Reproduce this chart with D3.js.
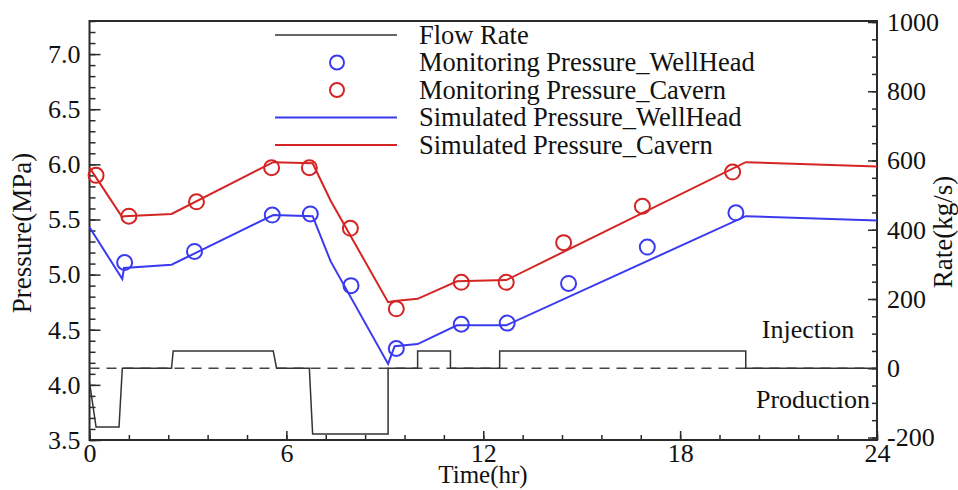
<!DOCTYPE html>
<html>
<head>
<meta charset="utf-8">
<title>Pressure and flow rate</title>
<script src="https://d3js.org/d3.v7.min.js"></script>
<style>
  body { margin: 0; background: #fff; }
  text { font-family: "Liberation Serif", "DejaVu Serif", serif; fill: #111; }
</style>
</head>
<body>
<svg id="chart"></svg>
<script>
// flow rate step line (kg/s)
const flowT    = [0, 0.2, 0.9, 1.0, 2.5, 2.55, 5.6, 5.7, 6.7, 6.8, 9.1, 9.1, 10.0, 10.0, 11.0, 11.0, 12.5, 12.5, 20.0, 20.0, 24];
const flowRate = [-40, -170, -170, 0, 0, 50, 50, 0, 0, -190, -190, 0, 0, 50, 50, 0, 0, 50, 50, 0, 0];

// simulated pressures (MPa)
const simT       = [0, 1.0, 1.05, 2.5, 5.6, 6.8, 7.35, 9.1, 9.3, 10.0, 11.2, 12.7, 20.0, 24];
const simWell    = [5.43, 4.96, 5.06, 5.09, 5.54, 5.53, 5.12, 4.19, 4.35, 4.37, 4.54, 4.54, 5.53, 5.49];
const simCavern  = [5.97, 5.52, 5.53, 5.55, 6.02, 6.01, 5.67, 4.75, 4.76, 4.78, 4.94, 4.95, 6.02, 5.98];

// monitoring pressures (MPa)
const monWellT   = [1.07, 3.2, 5.57, 6.73, 7.97, 9.35, 11.33, 12.73, 14.6, 17.0, 19.7];
const monWell    = [5.11, 5.21, 5.54, 5.55, 4.9, 4.33, 4.55, 4.56, 4.92, 5.25, 5.56];
const monCavT    = [0.2, 1.2, 3.26, 5.55, 6.7, 7.95, 9.35, 11.33, 12.7, 14.45, 16.85, 19.6];
const monCavern  = [5.90, 5.53, 5.66, 5.97, 5.97, 5.42, 4.69, 4.93, 4.93, 5.29, 5.62, 5.93];

const xTicks = [0, 6, 12, 18, 24];
const pTicks = [3.5, 4.0, 4.5, 5.0, 5.5, 6.0, 6.5, 7.0];
const rTicks = [-200, 0, 200, 400, 600, 800, 1000];

const legendItems = [
  {label: 'Flow Rate', kind: 'line', color: '#333'},
  {label: 'Monitoring Pressure_WellHead', kind: 'circle', color: '#3a3af0'},
  {label: 'Monitoring Pressure_Cavern', kind: 'circle', color: '#d42424'},
  {label: 'Simulated Pressure_WellHead', kind: 'line', color: '#3a3af0'},
  {label: 'Simulated Pressure_Cavern', kind: 'line', color: '#d42424'}
];

const W = 958, H = 490;
const mLeft = 89.5, mRight = 877, mTop = 21, mBottom = 440;
const blue = '#3a3af0', red = '#d42424', axisCol = '#2a2a2a';

let svg = d3.select('#chart').attr('width', W).attr('height', H);

const x = d3.scaleLinear().domain([0, 24]).range([mLeft, mRight]);
const y = d3.scaleLinear().domain([3.5, 7.3]).range([mBottom, mTop]);
const yR = d3.scaleLinear().domain([-200, 1000]).range([437.5, 22]);

// minor ticks
const xMinor = d3.range(0, 24.01, 1.2);
const pMinor = d3.range(3.5, 7.31, 0.1);
const rMinor = d3.range(-200, 1000.1, 50);

function styleAxis(g) {
  g.select('.domain').remove();
  g.selectAll('line').style('stroke', axisCol).style('stroke-width', 1.5);
  g.selectAll('text').style('font-size', '26px').style('font-family', '"Liberation Serif", serif').style('fill', '#111');
}

svg.append('g').attr('transform', `translate(${mLeft},0)`)
  .call(d3.axisLeft(y).tickValues(pMinor).tickSize(-6).tickFormat(''))
  .call(styleAxis);
svg.append('g').attr('transform', `translate(${mLeft},0)`)
  .call(d3.axisLeft(y).tickValues(pTicks).tickSize(-11).tickPadding(9).tickFormat(d3.format('.1f')))
  .call(styleAxis);

svg.append('g').attr('transform', `translate(0,${mBottom})`)
  .call(d3.axisBottom(x).tickValues(xMinor).tickSize(-5).tickFormat(''))
  .call(styleAxis);
svg.append('g').attr('transform', `translate(0,${mBottom})`)
  .call(d3.axisBottom(x).tickValues(xTicks).tickSize(-9).tickPadding(4).tickFormat(d => String(d)))
  .call(styleAxis);

svg.append('g').attr('transform', `translate(${mRight},0)`)
  .call(d3.axisRight(yR).tickValues(rMinor).tickSize(-5).tickFormat(''))
  .call(styleAxis);
svg.append('g').attr('transform', `translate(${mRight},0)`)
  .call(d3.axisRight(yR).tickValues(rTicks).tickSize(-9).tickPadding(10).tickFormat(d => String(d)))
  .call(styleAxis);

// frame
svg.append('rect')
  .attr('x', mLeft).attr('y', mTop)
  .attr('width', mRight - mLeft).attr('height', mBottom - mTop)
  .style('fill', 'none').style('stroke', axisCol).style('stroke-width', 2);

// zero-rate dashed line
svg.append('line')
  .attr('x1', mLeft).attr('x2', mRight)
  .attr('y1', yR(0)).attr('y2', yR(0))
  .style('stroke', '#444').style('stroke-width', 1.5)
  .style('stroke-dasharray', '10,7');

// flow rate
let flowLine = d3.line().x((d, i) => x(flowT[i])).y(d => yR(d));
svg.append('path')
  .attr('d', flowLine(flowRate))
  .style('fill', 'none').style('stroke', '#333').style('stroke-width', 1.5);

// simulated pressures
let simLine = d3.line().x((d, i) => x(simT[i])).y(d => y(d));
svg.append('path')
  .attr('d', simLine(simWell))
  .style('fill', 'none').style('stroke', blue).style('stroke-width', 2);
svg.append('path')
  .attr('d', simLine(simCavern))
  .style('fill', 'none').style('stroke', red).style('stroke-width', 2);

// monitoring pressures
svg.append('g').selectAll('circle').data(monWell).enter().append('circle')
  .attr('cx', (d, i) => x(monWellT[i]))
  .attr('cy', d => y(d))
  .attr('r', 7.5)
  .style('fill', 'none').style('stroke', blue).style('stroke-width', 2);
svg.append('g').selectAll('circle').data(monCavern).enter().append('circle')
  .attr('cx', (d, i) => x(monCavT[i]))
  .attr('cy', d => y(d))
  .attr('r', 7.5)
  .style('fill', 'none').style('stroke', red).style('stroke-width', 2);

// legend
let legend = svg.append('g');
legendItems.forEach(function(item, i) {
  let ly = 35 + i * 27.5;
  if (item.kind === 'line') {
    legend.append('line')
      .attr('x1', 275).attr('x2', 397).attr('y1', ly).attr('y2', ly)
      .style('stroke', item.color).style('stroke-width', item.color === '#333' ? 1.5 : 2);
  } else {
    legend.append('circle')
      .attr('cx', 337).attr('cy', ly).attr('r', 7)
      .style('fill', 'none').style('stroke', item.color).style('stroke-width', 2);
  }
  legend.append('text')
    .attr('x', 419).attr('y', ly).attr('dy', '0.33em')
    .style('font-size', '26.5px')
    .text(item.label);
});

// annotations
svg.append('text').attr('x', 808).attr('y', 338).attr('text-anchor', 'middle')
  .style('font-size', '26px').text('Injection');
svg.append('text').attr('x', 813).attr('y', 408).attr('text-anchor', 'middle')
  .style('font-size', '26px').text('Production');

// axis titles
svg.append('text').attr('x', 483).attr('y', 483).attr('text-anchor', 'middle')
  .style('font-size', '25px').text('Time(hr)');
svg.append('text')
  .attr('transform', 'translate(22,233) rotate(-90)')
  .attr('text-anchor', 'middle').attr('dy', '0.35em')
  .style('font-size', '27px').text('Pressure(MPa)');
svg.append('text')
  .attr('transform', 'translate(943,232) rotate(-90)')
  .attr('text-anchor', 'middle').attr('dy', '0.35em')
  .style('font-size', '27px').text('Rate(kg/s)');
</script>
</body>
</html>
